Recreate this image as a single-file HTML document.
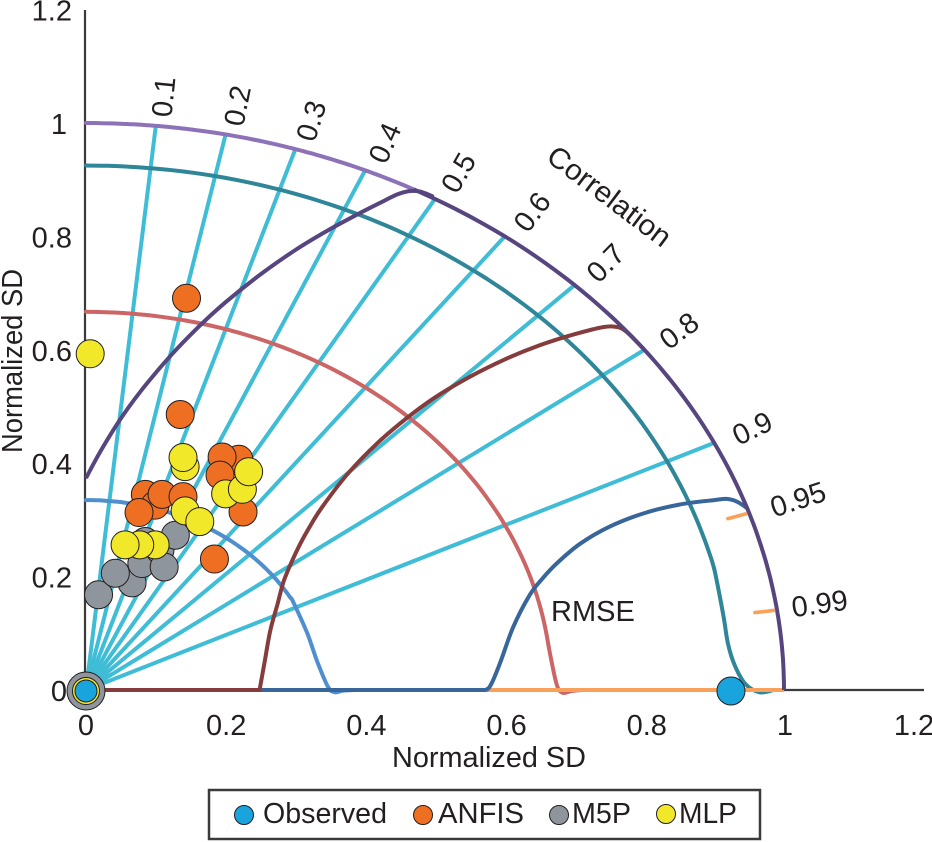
<!DOCTYPE html>
<html lang="en">
<head>
<meta charset="utf-8">
<title>Taylor diagram</title>
<style>
html,body{margin:0;padding:0;background:#fff;}
svg{display:block;}
text{font-family:"Liberation Sans",Arial,sans-serif;fill:#231f20;font-size:29px;}
</style>
</head>
<body>
<svg id="chart" xmlns="http://www.w3.org/2000/svg" width="932" height="842" viewBox="0 0 932 842">
  <g id="axes"></g>
  <g id="spokes"></g>
  <g id="curves"></g>
  <g id="ticks"></g>
  <g id="corrLabels"></g>
  <g id="markers"></g>
  <text x="489" y="767" text-anchor="middle" textLength="194" lengthAdjust="spacingAndGlyphs">Normalized SD</text>
  <text transform="translate(22,361) rotate(-90)" text-anchor="middle" textLength="184" lengthAdjust="spacingAndGlyphs">Normalized SD</text>
  <text transform="translate(608,198) rotate(37)" text-anchor="middle" dominant-baseline="middle" textLength="147" lengthAdjust="spacingAndGlyphs">Correlation</text>
  <text x="551" y="621">RMSE</text>
  <g>
    <rect x="209" y="790" width="551" height="49" fill="#fff" stroke="#3a3a3a" stroke-width="2.5"/>
    <circle cx="244" cy="815" r="9.5" fill="#19a4de" stroke="#231f20" stroke-width="1"/>
    <text x="263" y="823" textLength="124" lengthAdjust="spacingAndGlyphs">Observed</text>
    <circle cx="423" cy="815" r="9.5" fill="#ee6f22" stroke="#231f20" stroke-width="1"/>
    <text x="438" y="823" textLength="86" lengthAdjust="spacingAndGlyphs">ANFIS</text>
    <circle cx="559" cy="815" r="9.5" fill="#8f959d" stroke="#231f20" stroke-width="1"/>
    <text x="572" y="823" textLength="59" lengthAdjust="spacingAndGlyphs">M5P</text>
    <circle cx="666" cy="814" r="9.5" fill="#f2e82a" stroke="#231f20" stroke-width="1"/>
    <text x="679" y="823" textLength="58" lengthAdjust="spacingAndGlyphs">MLP</text>
  </g>
</svg>
<script>
// ---- chart data ----
const xTickValues = [0, 0.2, 0.4, 0.6, 0.8, 1, 1.2];
const yTickValues = [0, 0.2, 0.4, 0.6, 0.8, 1, 1.2];
const spokeCorrelations = [0.1, 0.2, 0.3, 0.4, 0.5, 0.6, 0.7, 0.8, 0.9];
const shortTickCorrelations = [0.95, 0.99];
const correlationLabels = [0.1, 0.2, 0.3, 0.4, 0.5, 0.6, 0.7, 0.8, 0.9, 0.95, 0.99];

const sdArcRadii = [0.925, 0.667, 0.335];
const tealTailX = [0.900, 0.908, 0.914, 0.920, 0.930, 0.945, 0.965, 0.985];
const tealTailY = [0.213, 0.165, 0.125, 0.080, 0.042, 0.010, -0.004, 0];
const redTailX = [0.660, 0.667, 0.675, 0.683, 0.695, 0.71];
const redTailY = [0.092, 0.050, 0.007, -0.005, -0.002, 0];
const blueTailX = [0.297, 0.317, 0.332, 0.347, 0.357, 0.368, 0.385];
const blueTailY = [0.153, 0.100, 0.048, 0.005, -0.004, -0.001, 0];

const rmseLargeX = [0.001, 0.02, 0.05, 0.08, 0.12, 0.16, 0.2, 0.25, 0.3, 0.35, 0.4, 0.421, 0.446, 0.464, 0.479, 0.496];
const rmseLargeY = [0.376, 0.4195, 0.479, 0.5295, 0.588, 0.639, 0.684, 0.733, 0.776, 0.813, 0.846, 0.859, 0.874, 0.880, 0.879, 0.871];
const rmseMidX = [0.249, 0.256, 0.264, 0.274, 0.283, 0.295, 0.307, 0.32, 0.338, 0.374, 0.417, 0.46, 0.5, 0.55, 0.6, 0.65, 0.7, 0.741, 0.761, 0.775, 0.80];
const rmseMidY = [0.002, 0.05, 0.105, 0.15, 0.191, 0.227, 0.258, 0.287, 0.322, 0.38, 0.435, 0.48, 0.516, 0.5525, 0.583, 0.608, 0.6275, 0.64, 0.64, 0.631, 0.60];
const rmseSmallX = [0.565, 0.578, 0.593, 0.612, 0.636, 0.655, 0.675, 0.708, 0.75, 0.80, 0.85, 0.90, 0.918, 0.933, 0.947];
const rmseSmallY = [0, 0.005, 0.047, 0.111, 0.168, 0.198, 0.224, 0.258, 0.288, 0.312, 0.327, 0.335, 0.337, 0.332, 0.321];

const observedX = [0.924, 0];
const observedY = [0, 0];
const m5pX = [0.018, 0.066, 0.042, 0.080, 0.106, 0.085, 0.112, 0.128];
const m5pY = [0.168, 0.189, 0.206, 0.223, 0.247, 0.262, 0.217, 0.273];
const anfisX = [0.144, 0.135, 0.219, 0.195, 0.192, 0.225, 0.085, 0.099, 0.109, 0.139, 0.076, 0.184];
const anfisY = [0.691, 0.486, 0.407, 0.411, 0.379, 0.314, 0.345, 0.326, 0.345, 0.341, 0.313, 0.231];
const mlpX = [0.006, 0.142, 0.139, 0.200, 0.224, 0.233, 0.142, 0.163, 0.099, 0.077, 0.056];
const mlpY = [0.593, 0.394, 0.410, 0.346, 0.354, 0.385, 0.316, 0.297, 0.256, 0.256, 0.256];

// ---- axis functions ----
const sx = v => 86 + 698 * v;
const sy = v => 690 - 567 * v;
const NS = 'http://www.w3.org/2000/svg';
const COLORS = {spoke:'#3fbcd6', orange:'#f9a15a', light:'#8d72b8', dark:'#57457f', teal:'#2e8698', red:'#cc6666', blue:'#4f8fd0', maroon:'#843c3c', navy:'#38659a', ink:'#3a3a3a'};

function make(tag, attrs, parent) {
  const el = document.createElementNS(NS, tag);
  for (const k in attrs) el.setAttribute(k, attrs[k]);
  parent.appendChild(el);
  return el;
}
function smoothPath(xs, ys) {
  const p = xs.map((x, i) => [sx(x), sy(ys[i])]);
  let d = 'M' + p[0][0].toFixed(1) + ' ' + p[0][1].toFixed(1);
  for (let i = 0; i < p.length - 1; i++) {
    const a = p[Math.max(i - 1, 0)], b = p[i], c = p[i + 1], e = p[Math.min(i + 2, p.length - 1)];
    d += 'C' + (b[0] + (c[0] - a[0]) / 6).toFixed(1) + ' ' + (b[1] + (c[1] - a[1]) / 6).toFixed(1) + ' ' +
         (c[0] - (e[0] - b[0]) / 6).toFixed(1) + ' ' + (c[1] - (e[1] - b[1]) / 6).toFixed(1) + ' ' +
         c[0].toFixed(1) + ' ' + c[1].toFixed(1);
  }
  return d;
}
// grid circle of constant SD, sampled at equal angles between two correlation values
function arcXs(r, c0, c1) {
  const a0 = Math.acos(c0), a1 = Math.acos(c1), o = [];
  for (let i = 0; i <= 40; i++) o.push(r * Math.cos(a0 + (a1 - a0) * i / 40));
  return o;
}
function arcYs(r, xs) { return xs.map(x => Math.sqrt(Math.max(r * r - x * x, 0))); }

const spokes = document.getElementById('spokes');
const curves = document.getElementById('curves');
const axes = document.getElementById('axes');
const ticks = document.getElementById('ticks');
const corrLabels = document.getElementById('corrLabels');
const markers = document.getElementById('markers');

// ---- correlation spokes ----
spokeCorrelations.forEach(c => {
  const el = make('line', {x1:sx(0), y1:sy(0), x2:sx(c), y2:sy(Math.sqrt(1 - c * c)), stroke:COLORS.spoke, 'stroke-width':4}, spokes);
  
  
});

// ---- axes ----
const xAxis = make('line', {x1:sx(0), y1:sy(0), x2:924, y2:sy(0), stroke:COLORS.ink, 'stroke-width':2.2}, axes);


const yAxis = make('line', {x1:85, y1:sy(0), x2:85, y2:10, stroke:COLORS.ink, 'stroke-width':2.2}, axes);



// ---- baseline segments ----
function baseline(x0, x1, color, name) {
  const el = make('line', {x1:sx(x0), y1:sy(0), x2:sx(x1), y2:sy(0), stroke:color, 'stroke-width':4}, curves);
  
  
}

// ---- SD arcs with their tails ----
function drawArc(r, tailX, tailY, color, name) {
  const xs = arcXs(r, 0, Math.min(tailX[0] / r, 0.999));
  const ys = arcYs(r, xs);
  const el = make('path', {d:smoothPath(xs.concat(tailX.slice(1)), ys.concat(tailY.slice(1))), fill:'none', stroke:color, 'stroke-width':4, 'stroke-linecap':'round', 'stroke-linejoin':'round'}, curves);
  
  
}
drawArc(sdArcRadii[0], tealTailX, tealTailY, COLORS.teal, 'sd-arc-teal');
drawArc(sdArcRadii[1], redTailX, redTailY, COLORS.red, 'sd-arc-red');
drawArc(sdArcRadii[2], blueTailX, blueTailY, COLORS.blue, 'sd-arc-blue');

// ---- RMSE curves ----
function drawCurve(xs, ys, color, name) {
  const el = make('path', {d:smoothPath(xs, ys), fill:'none', stroke:color, 'stroke-width':4, 'stroke-linecap':'round', 'stroke-linejoin':'round'}, curves);
  
  
}
baseline(0.57, 1, COLORS.orange, 'baseline-orange');
baseline(0.25, 0.57, COLORS.navy, 'baseline-navy');
drawCurve(rmseSmallX, rmseSmallY, COLORS.navy, 'rmse-curve-small');
baseline(0, 0.25, COLORS.maroon, 'baseline-maroon');
drawCurve(rmseMidX, rmseMidY, COLORS.maroon, 'rmse-curve-mid');

// ---- outer unit arc ----
const lightX = arcXs(1, 0, 0.47);
const lightArc = make('path', {d:smoothPath(lightX, arcYs(1, lightX)), fill:'none', stroke:COLORS.light, 'stroke-width':4, 'stroke-linecap':'round'}, curves);


const darkX = arcXs(1, 0.47, 1);
const darkArc = make('path', {d:smoothPath(darkX, arcYs(1, darkX)), fill:'none', stroke:COLORS.dark, 'stroke-width':4, 'stroke-linejoin':'round'}, curves);


drawCurve(rmseLargeX, rmseLargeY, COLORS.dark, 'rmse-curve-large');

// ---- short correlation ticks ----
shortTickCorrelations.forEach(c => {
  const s = Math.sqrt(1 - c * c);
  const el = make('line', {x1:sx(0.968 * c), y1:sy(0.968 * s), x2:sx(0.995 * c), y2:sy(0.995 * s), stroke:COLORS.orange, 'stroke-width':3.6, 'stroke-linecap':'round'}, curves);
  
  
});

// ---- tick labels ----
xTickValues.forEach(v => {
  const el = make('text', {x:Math.min(86 + 701 * v - (v === 1 ? 2 : 0), 914), y:735, 'text-anchor':'middle'}, ticks);
  el.textContent = String(v);
  
  
});
yTickValues.forEach(v => {
  const el = make('text', {x:Number.isInteger(v) ? 67 : 72, y:sy(v) + 11, 'text-anchor':'end'}, ticks);
  el.textContent = String(v);
  
  
});

// ---- correlation labels, placed radially ----
correlationLabels.forEach(c => {
  const s = Math.sqrt(1 - c * c);
  const deg = Math.acos(c) * 180 / Math.PI;
  const r = c === 0.95 ? 1.072 : c === 0.99 ? 1.061 : 1.058;
  const px = sx(r * c) + 6 * s, py = sy(r * s) + 4 * s;
  const el = make('text', {transform:'translate(' + px.toFixed(1) + ',' + py.toFixed(1) + ') rotate(' + (-deg).toFixed(1) + ')', 'text-anchor':'middle', 'dominant-baseline':'middle'}, corrLabels);
  el.textContent = String(c);
  
  
});

// ---- markers ----
function drawMarkers(xs, ys, fill, name) {
  xs.forEach((x, i) => {
    const el = make('circle', {cx:sx(x), cy:sy(ys[i]), r:14, fill:fill, stroke:'#231f20', 'stroke-width':1}, markers);
    
    
  });
}
drawMarkers(m5pX, m5pY, '#8f959d', 'm5p-point');
drawMarkers(anfisX, anfisY, '#ee6f22', 'anfis-point');
drawMarkers(mlpX, mlpY, '#f2e82a', 'mlp-point');
// origin stack: all models plotted at (0, 0)
const originCx = sx(0), originCy = sy(0) + 1;
const originGrey = make('circle', {cx:originCx, cy:originCy, r:19, fill:'#8f959d', stroke:'#231f20', 'stroke-width':1}, markers);


const originYellow = make('circle', {cx:originCx, cy:originCy, r:13.5, fill:'#f2e82a', stroke:'#231f20', 'stroke-width':1}, markers);


observedX.forEach((x, i) => {
  const r = x === 0 ? 11 : 14;
  const el = make('circle', {cx:sx(x), cy:sy(observedY[i]) + 1, r:r, fill:'#19a4de', stroke:'#231f20', 'stroke-width':1}, markers);
  
  
});
</script>
</body>
</html>
